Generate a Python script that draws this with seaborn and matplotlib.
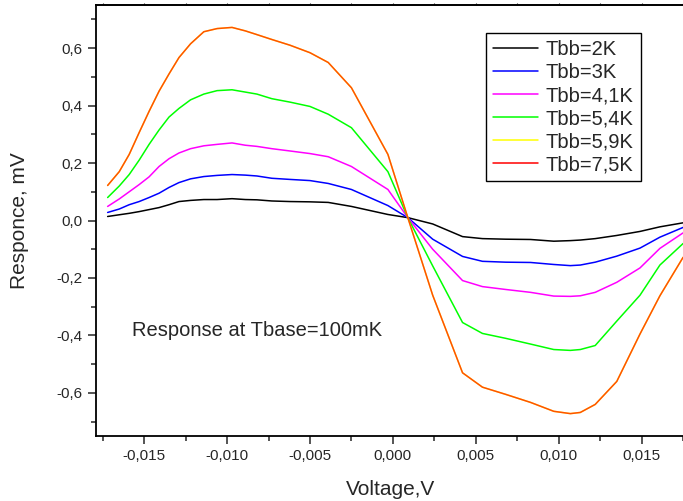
import pandas as pd
import seaborn as sns
import matplotlib.pyplot as plt
from matplotlib.ticker import MultipleLocator, FuncFormatter

# bias voltage, V
voltage = [-0.0172, -0.0165, -0.0159, -0.0153, -0.0147, -0.0141, -0.0135, -0.0129,
           -0.0122, -0.0114, -0.0106, -0.0097, -0.0089, -0.0082, -0.0073, -0.0062,
           -0.0050, -0.0039, -0.0025, -0.0003, 0.0009, 0.0024, 0.0042, 0.0054,
           0.0068, 0.0083, 0.0097, 0.0107, 0.0113, 0.0122, 0.0135, 0.0149,
           0.0161, 0.0175]

# response, mV
tbb_2_0 = [0.014, 0.020, 0.025, 0.031, 0.038, 0.045, 0.055, 0.066,
           0.070, 0.073, 0.073, 0.076, 0.073, 0.072, 0.068, 0.066,
           0.065, 0.063, 0.049, 0.021, 0.010, -0.012, -0.056, -0.063,
           -0.065, -0.066, -0.072, -0.070, -0.068, -0.063, -0.052, -0.038,
           -0.022, -0.008]
tbb_3_0 = [0.028, 0.040, 0.055, 0.066, 0.080, 0.095, 0.115, 0.132,
           0.145, 0.153, 0.157, 0.160, 0.158, 0.155, 0.147, 0.143,
           0.139, 0.129, 0.108, 0.052, 0.010, -0.065, -0.125, -0.142,
           -0.145, -0.146, -0.153, -0.157, -0.155, -0.145, -0.124, -0.096,
           -0.058, -0.024]
tbb_4_1 = [0.049, 0.075, 0.100, 0.125, 0.152, 0.188, 0.215, 0.235,
           0.250, 0.260, 0.265, 0.270, 0.262, 0.258, 0.250, 0.242,
           0.233, 0.222, 0.188, 0.108, 0.010, -0.100, -0.209, -0.230,
           -0.240, -0.250, -0.263, -0.264, -0.262, -0.250, -0.215, -0.165,
           -0.097, -0.043]
tbb_5_4 = [0.080, 0.120, 0.160, 0.210, 0.265, 0.315, 0.360, 0.390,
           0.420, 0.440, 0.452, 0.455, 0.447, 0.440, 0.424, 0.412,
           0.397, 0.370, 0.323, 0.170, 0.010, -0.158, -0.355, -0.393,
           -0.410, -0.430, -0.449, -0.452, -0.449, -0.435, -0.350, -0.260,
           -0.155, -0.080]
tbb_7_5 = [0.122, 0.170, 0.230, 0.306, 0.380, 0.450, 0.510, 0.567,
           0.615, 0.657, 0.668, 0.672, 0.660, 0.647, 0.630, 0.610,
           0.584, 0.550, 0.462, 0.230, 0.010, -0.260, -0.530, -0.580,
           -0.605, -0.633, -0.664, -0.672, -0.668, -0.640, -0.560, -0.395,
           -0.262, -0.128]
# 5,9K curve lies under the 7,5K one (only visible as the orange tint)
tbb_5_9 = list(tbb_7_5)

labels = ["Tbb=2K", "Tbb=3K", "Tbb=4,1K", "Tbb=5,4K", "Tbb=5,9K", "Tbb=7,5K"]
colors = ["black", "blue", "magenta", "#00ff00", "yellow", "red"]


def comma_fmt(decimals):
    return FuncFormatter(lambda v, pos: f"{v:.{decimals}f}".replace(".", ","))


def main():
    series = [tbb_2_0, tbb_3_0, tbb_4_1, tbb_5_4, tbb_5_9, tbb_7_5]
    frames = [pd.DataFrame({"Voltage": voltage, "Response": s, "Tbb": lab})
              for s, lab in zip(series, labels)]
    df = pd.concat(frames, ignore_index=True)

    sns.set_style("ticks")
    plt.rcParams["font.family"] = ["Liberation Sans", "DejaVu Sans"]

    fig = plt.figure(figsize=(6.83, 5.01), dpi=100)
    ax = fig.add_axes([0.1406, 0.1297, 0.862, 0.8603])

    sns.lineplot(data=df, x="Voltage", y="Response", hue="Tbb", hue_order=labels,
                 palette=colors, estimator=None, sort=False, linewidth=1.1, ax=ax)
    # red drawn over yellow, slightly see-through -> orange look of the original
    ax.lines[len(labels) - 1].set_alpha(0.68)

    ax.set_xlim(-0.0179, 0.0176)
    ax.set_ylim(-0.75, 0.75)
    ax.xaxis.set_major_locator(MultipleLocator(0.005))
    ax.xaxis.set_minor_locator(MultipleLocator(0.0025))
    ax.yaxis.set_major_locator(MultipleLocator(0.2))
    ax.yaxis.set_minor_locator(MultipleLocator(0.1))
    ax.xaxis.set_major_formatter(comma_fmt(3))
    ax.yaxis.set_major_formatter(comma_fmt(1))
    ax.tick_params(which="major", length=6, width=1.1, labelsize=11, direction="out")
    ax.tick_params(which="minor", length=3.5, width=1.1, direction="out")

    for side in ["left", "bottom", "top"]:
        ax.spines[side].set_linewidth(1.3)
        ax.spines[side].set_color("black")
    ax.spines["right"].set_visible(False)

    top = ax.secondary_xaxis("top")
    top.xaxis.set_major_locator(MultipleLocator(0.005))
    top.xaxis.set_minor_locator(MultipleLocator(0.0025))
    top.tick_params(which="both", length=1.5, width=0.8, labeltop=False)
    top.spines["top"].set_linewidth(1.3)

    ax.set_xlabel("Voltage,V", fontsize=15, labelpad=12)
    ax.set_ylabel("Responce, mV", fontsize=15, labelpad=20)

    ax.text(-0.01575, -0.383, "Response at Tbase=100mK", fontsize=14.5,
            va="center", ha="left")

    handles, labs = ax.get_legend_handles_labels()
    ax.legend(handles, labs, loc="upper right", bbox_to_anchor=(0.925, 0.935),
              borderaxespad=0, fontsize=14.5, frameon=True, fancybox=False,
              framealpha=1, edgecolor="black", handlelength=2.2,
              handletextpad=0.4, labelspacing=0.2, borderpad=0.35)
    ax.get_legend().get_frame().set_linewidth(1.0)

    fig.savefig("out.png", dpi=100)


if __name__ == "__main__":
    main()
